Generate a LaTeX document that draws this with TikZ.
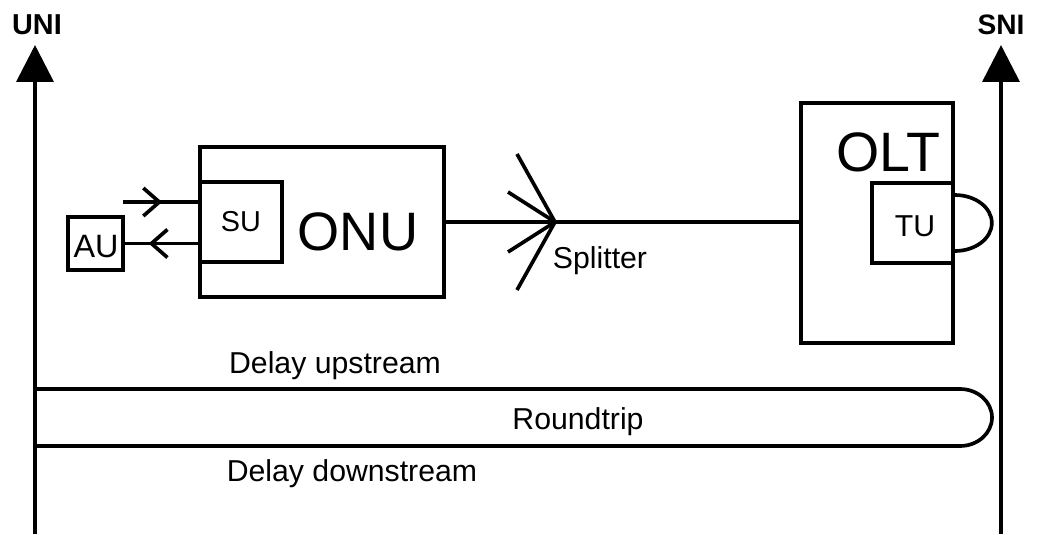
\documentclass[tikz,border=0pt]{standalone}
\usepackage{fontspec}
\setmainfont{Liberation Sans}
\usetikzlibrary{arrows.meta,fit,decorations.markings}
\newcommand{\fsz}[1]{\fontsize{#1}{#1}\selectfont}
\begin{document}
\begin{tikzpicture}[x=.025cm, y=-.025cm, line width=2.6pt, line join=miter,
        box/.style={draw, inner sep=0pt},
        lbl/.style={inner sep=0pt},
        sysline/.style={-{Triangle[length=.92cm,width=.92cm]}},
        chev/.style={postaction={decorate}, decoration={markings,
            mark=at position #1 with {\arrow{Straight Barb[length=.4cm,width=.7cm]}}}}]
            \useasboundingbox (0,0) rectangle (1039,534);
            % interfaces
            \coordinate (unibot) at (35,534);
            \coordinate (unitop) at (35,45);
            \coordinate (snibot) at (1001,534);
            \coordinate (snitop) at (1001,45);
            \draw[sysline] (unibot) -- (unitop);
            \draw[sysline] (snibot) -- (snitop);
            \node[lbl, font=\bfseries\fsz{20.5}] (uni) at (37,25) {UNI};
            \node[lbl, font=\bfseries\fsz{20}] (sni) at (1001,25) {SNI};
            % units
            \node[box, fit={(200,147) (444,297)}] (onu) {};
            \node[lbl, font=\fsz{38.5}] (onulbl) at (358,232) {ONU};
            \node[box, fit={(200,182) (282,262)}] (su) {};
            \node[lbl, font=\fsz{20.5}] (sulbl) at (241,222) {SU};
            \node[box, fit={(68,217) (123,270)}] (au) {};
            \node[lbl, font=\fsz{23}] (aulbl) at (96,247) {AU};
            \node[box, fit={(801,103) (953,343)}] (olt) {};
            \node[lbl, font=\fsz{39.5}] (oltlbl) at (888,152) {OLT};
            \node[box, fit={(872,183) (953,263)}] (tu) {};
            \node[lbl, font=\fsz{21.5}] (tulbl) at (915,226) {TU};
            \draw (tu.east) ++(0,-28) arc[start angle=-90, end angle=90, x radius=37, y radius=28];
            % AU <-> SU
            \coordinate (auin) at (123,202);
            \draw[chev=.52] (auin) -- (auin -| su.west);
            \draw[chev=.675] (su.west |- au.east) -- (au.east);
            % splitter
            \coordinate (split) at (555,222);
            \draw (split -| onu.east) -- (split) -- (split -| olt.west);
            \foreach \x/\y in {517/154, 508/192, 508/252, 517/290}
                \draw (split) -- (\x,\y);
            \node[lbl, font=\fsz{21.5}] (splbl) at (600,261) {Splitter};
            % delays
            \coordinate (rtup) at (35,389);
            \coordinate (rtdown) at (35,446);
            \draw (rtup) -- (960,389) arc[start angle=-90, end angle=90, x radius=32, y radius=28.5] -- (rtdown);
            \node[lbl, font=\fsz{21.5}] (up) at (335,366) {Delay upstream};
            \node[lbl, font=\fsz{21.5}] (rt) at (578,422) {Roundtrip};
            \node[lbl, font=\fsz{21.5}] (down) at (352,474) {Delay downstream};
    \end{tikzpicture}
\end{document}
